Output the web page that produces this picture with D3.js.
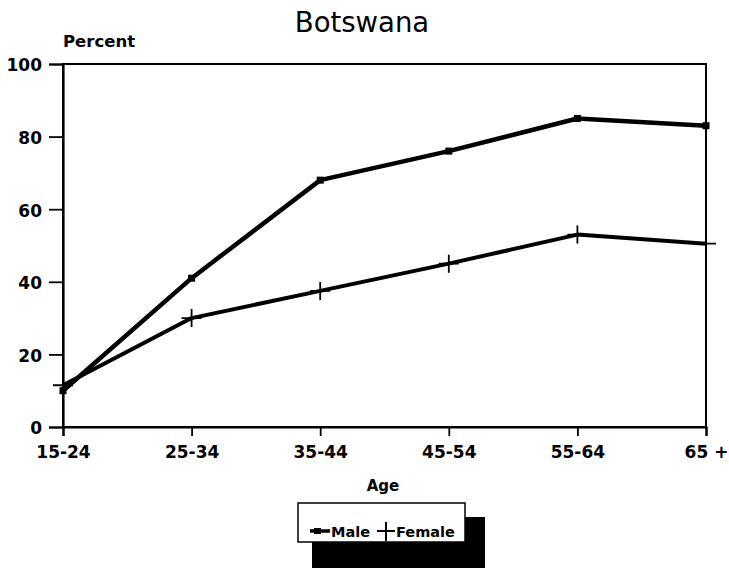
<!DOCTYPE html>
<html><head><meta charset="utf-8">
<script src="https://cdn.jsdelivr.net/npm/d3@7"></script>
<style>body{margin:0;background:#fff}svg{display:block}</style>
</head><body>
<script>
const categories = ["15-24","25-34","35-44","45-54","55-64","65 +"];
const male = [10, 41, 68, 76, 85, 83];
const female = [11.5, 30, 37.5, 45, 53, 50.5];
const yTicks = [0,20,40,60,80,100];
const title = "Botswana";
const yLabel = "Percent";
const xLabel = "Age";
const seriesNames = ["Male","Female"];

const W = 729, H = 571;
const svg = d3.select("body").append("svg").attr("width", W).attr("height", H);
const L = 63, R = 706, T = 64, B = 427;
const x = d3.scalePoint().domain(categories).range([L, R]);
const y = d3.scaleLinear().domain([0,100]).range([B, T]);
const font = "DejaVu Sans, sans-serif";

svg.append("text").attr("x", 362).attr("y", 32).attr("text-anchor","middle")
  .attr("font-family", font).attr("font-size", 27.5).text(title);
svg.append("text").attr("x", 63).attr("y", 47).attr("font-family", font)
  .attr("font-weight","bold").attr("font-size", 16.5).text(yLabel);

// frame
svg.append("rect").attr("x", L).attr("y", T).attr("width", R-L).attr("height", B-T)
  .attr("fill","none").attr("stroke","#000").attr("stroke-width", 2);

// y axis
const ya = svg.append("g").attr("transform", `translate(${L},0)`)
  .call(d3.axisLeft(y).tickValues(yTicks).tickSize(14).tickPadding(7));
ya.select(".domain").attr("stroke-width", 2.2);
ya.selectAll(".tick line").attr("stroke-width", 1.8);
ya.selectAll("text").attr("font-family", font).attr("font-weight","bold").attr("font-size", 17).attr("fill","#000").attr("dy","0.4em");

// x axis
const xa = svg.append("g").attr("transform", `translate(0,${B})`)
  .call(d3.axisBottom(x).tickSize(9).tickPadding(10));
xa.select(".domain").attr("stroke-width", 2.2);
xa.selectAll(".tick line").attr("stroke-width", 1.8);
xa.selectAll("text").attr("font-family", font).attr("font-weight","bold").attr("font-size", 17).attr("fill","#000");

svg.append("text").attr("x", 383).attr("y", 491).attr("text-anchor","middle")
  .attr("font-family", font).attr("font-weight","bold").attr("font-size", 15).text(xLabel);

const line = d3.line().x((d,i)=>x(categories[i])).y(d=>y(d));
svg.append("path").datum(female).attr("d", line).attr("fill","none")
  .attr("stroke","#000").attr("stroke-width", 4).attr("stroke-linejoin","round");
svg.append("path").datum(male).attr("d", line).attr("fill","none")
  .attr("stroke","#000").attr("stroke-width", 4.5).attr("stroke-linejoin","round");

// markers
svg.selectAll(".fm").data(female).enter().append("path")
  .attr("d",(d,i)=>{const cx=x(categories[i]), cy=y(d);
    return `M${cx-10},${cy}H${cx+10}M${cx},${cy-9}V${cy+9}`;})
  .attr("stroke","#000").attr("stroke-width",1.8).attr("fill","none");
svg.selectAll(".mm").data(male).enter().append("rect")
  .attr("x",(d,i)=>x(categories[i])-3.5).attr("y",d=>y(d)-3.5)
  .attr("width",7).attr("height",7).attr("fill","#000");

// legend
svg.append("rect").attr("x",312).attr("y",517).attr("width",173).attr("height",51).attr("fill","#000");
svg.append("rect").attr("x",298).attr("y",503).attr("width",167).attr("height",39)
  .attr("fill","#fff").attr("stroke","#000").attr("stroke-width",1.5);
svg.append("line").attr("x1",310).attr("x2",330).attr("y1",531).attr("y2",531)
  .attr("stroke","#000").attr("stroke-width",3.5);
svg.append("rect").attr("x",314).attr("y",528).attr("width",7).attr("height",6).attr("fill","#000");
svg.append("text").attr("x",331).attr("y",537).attr("font-family",font).attr("font-weight","bold")
  .attr("font-size",14.5).text(seriesNames[0]);
svg.append("path").attr("d","M377,531H395M386,522V541").attr("stroke","#000").attr("stroke-width",2);
svg.append("text").attr("x",396).attr("y",537).attr("font-family",font).attr("font-weight","bold")
  .attr("font-size",14.5).text(seriesNames[1]);
</script>
</body></html>
